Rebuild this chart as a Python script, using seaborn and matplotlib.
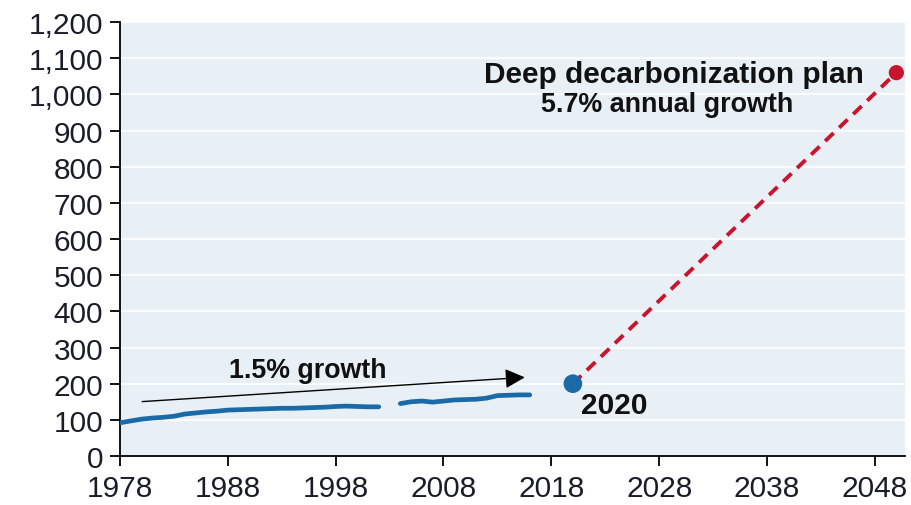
import numpy as np
import pandas as pd
import matplotlib
matplotlib.use("Agg")
import matplotlib.pyplot as plt
import seaborn as sns

# Historical series (annual); 2003 missing in source
years = list(range(1978, 2017))
values = [92, 97, 102, 105, 107, 110, 116, 119, 122, 124, 127, 128, 129, 130, 131, 132, 132, 133, 134, 135,
          137, 138, 137, 136, 136, np.nan, 145, 150, 152, 149, 152, 155, 156, 157, 160, 167, 168, 169, 169]

# Plan points
plan_years = [2020, 2050]
plan_values = [200, 1060]

x_ticks = [1978, 1988, 1998, 2008, 2018, 2028, 2038, 2048]
y_ticks = list(range(0, 1201, 100))

blue = "#1a6aa8"
red = "#c8152d"
bg = "#e8f0f5"

sns.set_theme(style="white")
plt.rcParams['font.family'] = ['Liberation Sans', 'DejaVu Sans']

fig = plt.figure(figsize=(9.11, 5.06), dpi=100)
ax = fig.add_axes([0.1317, 0.0968, 0.8617, 0.8577])
ax.set_facecolor(bg)

hist = pd.DataFrame({"year": years, "value": values})
# split into segments at the gap so the line is not bridged
hist["segment"] = hist["value"].isna().cumsum()
hist = hist.dropna()
plan = pd.DataFrame({"year": plan_years, "value": plan_values})

for y in y_ticks:
    ax.axhline(y, color="white", lw=1.2, zorder=0)

sns.lineplot(data=hist, x="year", y="value", units="segment", estimator=None, ax=ax,
             color=blue, lw=3.4, zorder=3)
sns.lineplot(data=plan, x="year", y="value", ax=ax, color=red, lw=2.8, linestyle=(0, (3, 2)), zorder=3)
ax.scatter([plan_years[0]], [plan_values[0]], s=180, color=blue, zorder=5, edgecolor="none")
ax.scatter([plan_years[1]], [plan_values[1]], s=120, color=red, zorder=5, edgecolor="none")

ax.annotate("", xy=(2015.8, 218), xytext=(1979.8, 150),
            arrowprops=dict(arrowstyle="-|>,head_length=1.0,head_width=0.5", color="black", lw=1.0))
ax.text(1995.4, 238, "1.5% growth", fontsize=19.3, fontweight="bold", ha="center", va="center", color="#111111")
ax.text(2020.8, 142, "2020", fontsize=21.5, fontweight="bold", ha="left", va="center", color="#111111")
ax.text(2029.4, 1057, "Deep decarbonization plan", fontsize=21.5, fontweight="bold", ha="center", va="center", color="#111111")
ax.text(2028.7, 973, "5.7% annual growth", fontsize=19.4, fontweight="bold", ha="center", va="center", color="#111111")

ax.set_xlim(1978, 2050.8)
ax.set_ylim(0, 1200)
ax.set_xticks(x_ticks)
ax.set_yticks(y_ticks)
ax.set_yticklabels([f"{v:,}" for v in y_ticks])
ax.set_xlabel("")
ax.set_ylabel("")
ax.tick_params(axis="both", which="both", direction="out", length=7, width=1.3, color="black",
               labelsize=21.5, labelcolor="#1c1c28", left=True, bottom=True)
ax.tick_params(axis="x", pad=6)
ax.tick_params(axis="y", pad=5)
for s in ["top", "right"]:
    ax.spines[s].set_visible(False)
for s in ["left", "bottom"]:
    ax.spines[s].set_color("black")
    ax.spines[s].set_linewidth(1.3)
ax.grid(False)

fig.savefig("out.png", dpi=100, facecolor="white")
